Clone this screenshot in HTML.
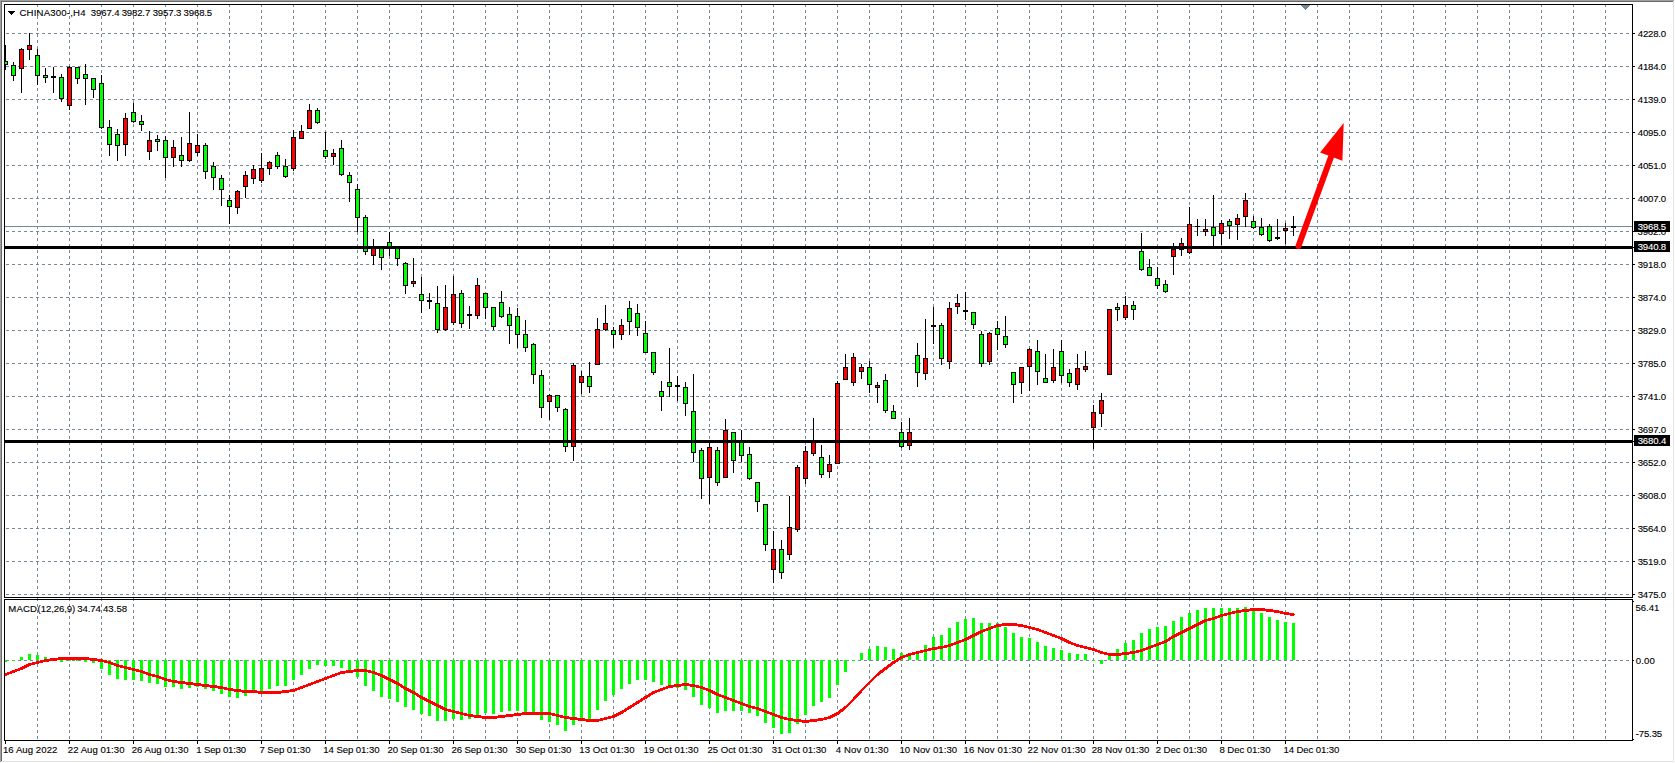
<!DOCTYPE html><html><head><meta charset="utf-8"><style>html,body{margin:0;padding:0;background:#fff;width:1675px;height:763px;overflow:hidden}text{font-family:"Liberation Sans",sans-serif}</style></head><body><svg width="1675" height="763" viewBox="0 0 1675 763" shape-rendering="crispEdges" style="position:absolute;left:0;top:0">
<defs><clipPath id="cm"><rect x="5" y="5" width="1627" height="592"/></clipPath><clipPath id="cd"><rect x="5" y="600" width="1627" height="140"/></clipPath></defs>
<rect x="0" y="0" width="1675" height="763" fill="#fff"/>
<rect x="0" y="0" width="1674" height="1" fill="#a0a0a0"/>
<rect x="0" y="0" width="1" height="762" fill="#a0a0a0"/>
<rect x="1" y="1" width="1672" height="1" fill="#696969"/>
<rect x="1" y="1" width="1" height="760" fill="#696969"/>
<rect x="1673" y="1" width="1" height="761" fill="#e3e3e3"/>
<rect x="1" y="761" width="1673" height="1" fill="#e3e3e3"/>
<path d="M37.5 4V597M69.5 4V597M101.5 4V597M133.5 4V597M165.5 4V597M197.5 4V597M229.5 4V597M261.5 4V597M293.5 4V597M325.5 4V597M357.5 4V597M389.5 4V597M421.5 4V597M453.5 4V597M485.5 4V597M517.5 4V597M549.5 4V597M581.5 4V597M613.5 4V597M645.5 4V597M677.5 4V597M709.5 4V597M741.5 4V597M773.5 4V597M805.5 4V597M837.5 4V597M869.5 4V597M901.5 4V597M933.5 4V597M965.5 4V597M997.5 4V597M1029.5 4V597M1061.5 4V597M1093.5 4V597M1125.5 4V597M1157.5 4V597M1189.5 4V597M1221.5 4V597M1253.5 4V597M1285.5 4V597M1317.5 4V597M1349.5 4V597M1381.5 4V597M1413.5 4V597M1445.5 4V597M1477.5 4V597M1509.5 4V597M1541.5 4V597M1573.5 4V597M1605.5 4V597M6 33.5H1632M6 66.5H1632M6 99.5H1632M6 132.5H1632M6 165.5H1632M6 198.5H1632M6 231.5H1632M6 264.5H1632M6 297.5H1632M6 330.5H1632M6 363.5H1632M6 396.5H1632M6 429.5H1632M6 462.5H1632M6 495.5H1632M6 528.5H1632M6 561.5H1632M6 594.5H1632" stroke="#778899" stroke-width="1" stroke-dasharray="3 3" fill="none"/>
<path d="M37.5 598V740M69.5 598V740M101.5 598V740M133.5 598V740M165.5 598V740M197.5 598V740M229.5 598V740M261.5 598V740M293.5 598V740M325.5 598V740M357.5 598V740M389.5 598V740M421.5 598V740M453.5 598V740M485.5 598V740M517.5 598V740M549.5 598V740M581.5 598V740M613.5 598V740M645.5 598V740M677.5 598V740M709.5 598V740M741.5 598V740M773.5 598V740M805.5 598V740M837.5 598V740M869.5 598V740M901.5 598V740M933.5 598V740M965.5 598V740M997.5 598V740M1029.5 598V740M1061.5 598V740M1093.5 598V740M1125.5 598V740M1157.5 598V740M1189.5 598V740M1221.5 598V740M1253.5 598V740M1285.5 598V740M1317.5 598V740M1349.5 598V740M1381.5 598V740M1413.5 598V740M1445.5 598V740M1477.5 598V740M1509.5 598V740M1541.5 598V740M1573.5 598V740M1605.5 598V740M6 660.5H1632" stroke="#778899" stroke-width="1" stroke-dasharray="3 3" fill="none"/>
<rect x="5" y="226" width="1627" height="1" fill="#778899"/>
<g clip-path="url(#cm)">
<rect x="5" y="45" width="1" height="25" fill="#000"/>
<rect x="3" y="61" width="5" height="4" fill="#000"/>
<rect x="4" y="62" width="3" height="2" fill="#00ff00"/>
<rect x="13" y="62" width="1" height="19" fill="#000"/>
<rect x="11" y="65" width="5" height="11" fill="#000"/>
<rect x="12" y="66" width="3" height="9" fill="#00ff00"/>
<rect x="21" y="48" width="1" height="45" fill="#000"/>
<rect x="19" y="49" width="5" height="20" fill="#000"/>
<rect x="20" y="50" width="3" height="18" fill="#ff0000"/>
<rect x="29" y="33" width="1" height="27" fill="#000"/>
<rect x="27" y="45" width="5" height="5" fill="#000"/>
<rect x="28" y="46" width="3" height="3" fill="#ff0000"/>
<rect x="37" y="49" width="1" height="36" fill="#000"/>
<rect x="35" y="55" width="5" height="21" fill="#000"/>
<rect x="36" y="56" width="3" height="19" fill="#00ff00"/>
<rect x="45" y="68" width="1" height="15" fill="#000"/>
<rect x="43" y="75" width="5" height="3" fill="#000"/>
<rect x="44" y="76" width="3" height="1" fill="#00ff00"/>
<rect x="53" y="67" width="1" height="26" fill="#000"/>
<rect x="51" y="76" width="5" height="2" fill="#000"/>
<rect x="61" y="74" width="1" height="28" fill="#000"/>
<rect x="59" y="77" width="5" height="22" fill="#000"/>
<rect x="60" y="78" width="3" height="20" fill="#00ff00"/>
<rect x="69" y="66" width="1" height="44" fill="#000"/>
<rect x="67" y="67" width="5" height="39" fill="#000"/>
<rect x="68" y="68" width="3" height="37" fill="#ff0000"/>
<rect x="77" y="67" width="1" height="17" fill="#000"/>
<rect x="75" y="67" width="5" height="12" fill="#000"/>
<rect x="76" y="68" width="3" height="10" fill="#00ff00"/>
<rect x="85" y="64" width="1" height="41" fill="#000"/>
<rect x="83" y="74" width="5" height="5" fill="#000"/>
<rect x="84" y="75" width="3" height="3" fill="#00ff00"/>
<rect x="93" y="78" width="1" height="20" fill="#000"/>
<rect x="91" y="78" width="5" height="12" fill="#000"/>
<rect x="92" y="79" width="3" height="10" fill="#00ff00"/>
<rect x="101" y="75" width="1" height="54" fill="#000"/>
<rect x="99" y="83" width="5" height="45" fill="#000"/>
<rect x="100" y="84" width="3" height="43" fill="#00ff00"/>
<rect x="109" y="120" width="1" height="36" fill="#000"/>
<rect x="107" y="127" width="5" height="18" fill="#000"/>
<rect x="108" y="128" width="3" height="16" fill="#00ff00"/>
<rect x="117" y="129" width="1" height="32" fill="#000"/>
<rect x="115" y="134" width="5" height="12" fill="#000"/>
<rect x="116" y="135" width="3" height="10" fill="#00ff00"/>
<rect x="125" y="113" width="1" height="43" fill="#000"/>
<rect x="123" y="118" width="5" height="27" fill="#000"/>
<rect x="124" y="119" width="3" height="25" fill="#ff0000"/>
<rect x="133" y="103" width="1" height="20" fill="#000"/>
<rect x="131" y="112" width="5" height="10" fill="#000"/>
<rect x="132" y="113" width="3" height="8" fill="#00ff00"/>
<rect x="141" y="115" width="1" height="16" fill="#000"/>
<rect x="139" y="121" width="5" height="4" fill="#000"/>
<rect x="140" y="122" width="3" height="2" fill="#00ff00"/>
<rect x="149" y="131" width="1" height="29" fill="#000"/>
<rect x="147" y="140" width="5" height="12" fill="#000"/>
<rect x="148" y="141" width="3" height="10" fill="#ff0000"/>
<rect x="157" y="135" width="1" height="16" fill="#000"/>
<rect x="155" y="139" width="5" height="3" fill="#000"/>
<rect x="156" y="140" width="3" height="1" fill="#00ff00"/>
<rect x="165" y="136" width="1" height="42" fill="#000"/>
<rect x="163" y="140" width="5" height="18" fill="#000"/>
<rect x="164" y="141" width="3" height="16" fill="#00ff00"/>
<rect x="173" y="140" width="1" height="27" fill="#000"/>
<rect x="171" y="147" width="5" height="11" fill="#000"/>
<rect x="172" y="148" width="3" height="9" fill="#ff0000"/>
<rect x="181" y="137" width="1" height="30" fill="#000"/>
<rect x="179" y="155" width="5" height="6" fill="#000"/>
<rect x="180" y="156" width="3" height="4" fill="#00ff00"/>
<rect x="189" y="112" width="1" height="50" fill="#000"/>
<rect x="187" y="143" width="5" height="18" fill="#000"/>
<rect x="188" y="144" width="3" height="16" fill="#ff0000"/>
<rect x="197" y="134" width="1" height="22" fill="#000"/>
<rect x="195" y="145" width="5" height="8" fill="#000"/>
<rect x="196" y="146" width="3" height="6" fill="#ff0000"/>
<rect x="205" y="143" width="1" height="36" fill="#000"/>
<rect x="203" y="145" width="5" height="27" fill="#000"/>
<rect x="204" y="146" width="3" height="25" fill="#00ff00"/>
<rect x="213" y="162" width="1" height="28" fill="#000"/>
<rect x="211" y="166" width="5" height="12" fill="#000"/>
<rect x="212" y="167" width="3" height="10" fill="#00ff00"/>
<rect x="221" y="175" width="1" height="31" fill="#000"/>
<rect x="219" y="178" width="5" height="12" fill="#000"/>
<rect x="220" y="179" width="3" height="10" fill="#00ff00"/>
<rect x="229" y="195" width="1" height="29" fill="#000"/>
<rect x="227" y="200" width="5" height="7" fill="#000"/>
<rect x="228" y="201" width="3" height="5" fill="#00ff00"/>
<rect x="237" y="190" width="1" height="24" fill="#000"/>
<rect x="235" y="191" width="5" height="17" fill="#000"/>
<rect x="236" y="192" width="3" height="15" fill="#ff0000"/>
<rect x="245" y="171" width="1" height="27" fill="#000"/>
<rect x="243" y="175" width="5" height="12" fill="#000"/>
<rect x="244" y="176" width="3" height="10" fill="#ff0000"/>
<rect x="253" y="165" width="1" height="19" fill="#000"/>
<rect x="251" y="169" width="5" height="10" fill="#000"/>
<rect x="252" y="170" width="3" height="8" fill="#ff0000"/>
<rect x="261" y="153" width="1" height="30" fill="#000"/>
<rect x="259" y="168" width="5" height="13" fill="#000"/>
<rect x="260" y="169" width="3" height="11" fill="#ff0000"/>
<rect x="269" y="161" width="1" height="14" fill="#000"/>
<rect x="267" y="162" width="5" height="7" fill="#000"/>
<rect x="268" y="163" width="3" height="5" fill="#ff0000"/>
<rect x="277" y="152" width="1" height="17" fill="#000"/>
<rect x="275" y="155" width="5" height="12" fill="#000"/>
<rect x="276" y="156" width="3" height="10" fill="#00ff00"/>
<rect x="285" y="159" width="1" height="19" fill="#000"/>
<rect x="283" y="166" width="5" height="11" fill="#000"/>
<rect x="284" y="167" width="3" height="9" fill="#00ff00"/>
<rect x="293" y="130" width="1" height="41" fill="#000"/>
<rect x="291" y="137" width="5" height="32" fill="#000"/>
<rect x="292" y="138" width="3" height="30" fill="#ff0000"/>
<rect x="301" y="125" width="1" height="14" fill="#000"/>
<rect x="299" y="131" width="5" height="8" fill="#000"/>
<rect x="300" y="132" width="3" height="6" fill="#ff0000"/>
<rect x="309" y="104" width="1" height="25" fill="#000"/>
<rect x="307" y="110" width="5" height="19" fill="#000"/>
<rect x="308" y="111" width="3" height="17" fill="#ff0000"/>
<rect x="317" y="108" width="1" height="16" fill="#000"/>
<rect x="315" y="110" width="5" height="13" fill="#000"/>
<rect x="316" y="111" width="3" height="11" fill="#00ff00"/>
<rect x="325" y="132" width="1" height="27" fill="#000"/>
<rect x="323" y="150" width="5" height="7" fill="#000"/>
<rect x="324" y="151" width="3" height="5" fill="#00ff00"/>
<rect x="333" y="149" width="1" height="16" fill="#000"/>
<rect x="331" y="153" width="5" height="4" fill="#000"/>
<rect x="332" y="154" width="3" height="2" fill="#ff0000"/>
<rect x="341" y="140" width="1" height="36" fill="#000"/>
<rect x="339" y="148" width="5" height="27" fill="#000"/>
<rect x="340" y="149" width="3" height="25" fill="#00ff00"/>
<rect x="349" y="172" width="1" height="30" fill="#000"/>
<rect x="347" y="175" width="5" height="8" fill="#000"/>
<rect x="348" y="176" width="3" height="6" fill="#00ff00"/>
<rect x="357" y="184" width="1" height="48" fill="#000"/>
<rect x="355" y="189" width="5" height="29" fill="#000"/>
<rect x="356" y="190" width="3" height="27" fill="#00ff00"/>
<rect x="365" y="215" width="1" height="40" fill="#000"/>
<rect x="363" y="217" width="5" height="35" fill="#000"/>
<rect x="364" y="218" width="3" height="33" fill="#00ff00"/>
<rect x="373" y="239" width="1" height="26" fill="#000"/>
<rect x="371" y="247" width="5" height="9" fill="#000"/>
<rect x="372" y="248" width="3" height="7" fill="#ff0000"/>
<rect x="381" y="247" width="1" height="23" fill="#000"/>
<rect x="379" y="247" width="5" height="11" fill="#000"/>
<rect x="380" y="248" width="3" height="9" fill="#00ff00"/>
<rect x="389" y="232" width="1" height="24" fill="#000"/>
<rect x="387" y="242" width="5" height="5" fill="#000"/>
<rect x="388" y="243" width="3" height="3" fill="#00ff00"/>
<rect x="397" y="247" width="1" height="19" fill="#000"/>
<rect x="395" y="247" width="5" height="12" fill="#000"/>
<rect x="396" y="248" width="3" height="10" fill="#00ff00"/>
<rect x="405" y="262" width="1" height="32" fill="#000"/>
<rect x="403" y="263" width="5" height="23" fill="#000"/>
<rect x="404" y="264" width="3" height="21" fill="#00ff00"/>
<rect x="413" y="258" width="1" height="29" fill="#000"/>
<rect x="411" y="281" width="5" height="3" fill="#000"/>
<rect x="412" y="282" width="3" height="1" fill="#ff0000"/>
<rect x="421" y="277" width="1" height="36" fill="#000"/>
<rect x="419" y="294" width="5" height="7" fill="#000"/>
<rect x="420" y="295" width="3" height="5" fill="#00ff00"/>
<rect x="429" y="293" width="1" height="16" fill="#000"/>
<rect x="427" y="300" width="5" height="2" fill="#000"/>
<rect x="437" y="286" width="1" height="47" fill="#000"/>
<rect x="435" y="303" width="5" height="27" fill="#000"/>
<rect x="436" y="304" width="3" height="25" fill="#00ff00"/>
<rect x="445" y="285" width="1" height="46" fill="#000"/>
<rect x="443" y="307" width="5" height="23" fill="#000"/>
<rect x="444" y="308" width="3" height="21" fill="#ff0000"/>
<rect x="453" y="276" width="1" height="49" fill="#000"/>
<rect x="451" y="294" width="5" height="29" fill="#000"/>
<rect x="452" y="295" width="3" height="27" fill="#ff0000"/>
<rect x="461" y="290" width="1" height="38" fill="#000"/>
<rect x="459" y="293" width="5" height="31" fill="#000"/>
<rect x="460" y="294" width="3" height="29" fill="#00ff00"/>
<rect x="469" y="306" width="1" height="23" fill="#000"/>
<rect x="467" y="314" width="5" height="2" fill="#000"/>
<rect x="477" y="278" width="1" height="41" fill="#000"/>
<rect x="475" y="285" width="5" height="31" fill="#000"/>
<rect x="476" y="286" width="3" height="29" fill="#ff0000"/>
<rect x="485" y="293" width="1" height="26" fill="#000"/>
<rect x="483" y="293" width="5" height="15" fill="#000"/>
<rect x="484" y="294" width="3" height="13" fill="#00ff00"/>
<rect x="493" y="307" width="1" height="23" fill="#000"/>
<rect x="491" y="307" width="5" height="20" fill="#000"/>
<rect x="492" y="308" width="3" height="18" fill="#00ff00"/>
<rect x="501" y="291" width="1" height="27" fill="#000"/>
<rect x="499" y="302" width="5" height="15" fill="#000"/>
<rect x="500" y="303" width="3" height="13" fill="#00ff00"/>
<rect x="509" y="307" width="1" height="37" fill="#000"/>
<rect x="507" y="314" width="5" height="12" fill="#000"/>
<rect x="508" y="315" width="3" height="10" fill="#00ff00"/>
<rect x="517" y="308" width="1" height="40" fill="#000"/>
<rect x="515" y="316" width="5" height="19" fill="#000"/>
<rect x="516" y="317" width="3" height="17" fill="#00ff00"/>
<rect x="525" y="320" width="1" height="32" fill="#000"/>
<rect x="523" y="334" width="5" height="14" fill="#000"/>
<rect x="524" y="335" width="3" height="12" fill="#00ff00"/>
<rect x="533" y="343" width="1" height="41" fill="#000"/>
<rect x="531" y="344" width="5" height="31" fill="#000"/>
<rect x="532" y="345" width="3" height="29" fill="#00ff00"/>
<rect x="541" y="370" width="1" height="48" fill="#000"/>
<rect x="539" y="375" width="5" height="33" fill="#000"/>
<rect x="540" y="376" width="3" height="31" fill="#00ff00"/>
<rect x="549" y="394" width="1" height="26" fill="#000"/>
<rect x="547" y="395" width="5" height="7" fill="#000"/>
<rect x="548" y="396" width="3" height="5" fill="#ff0000"/>
<rect x="557" y="395" width="1" height="17" fill="#000"/>
<rect x="555" y="395" width="5" height="13" fill="#000"/>
<rect x="556" y="396" width="3" height="11" fill="#00ff00"/>
<rect x="565" y="408" width="1" height="44" fill="#000"/>
<rect x="563" y="409" width="5" height="38" fill="#000"/>
<rect x="564" y="410" width="3" height="36" fill="#00ff00"/>
<rect x="573" y="363" width="1" height="98" fill="#000"/>
<rect x="571" y="365" width="5" height="82" fill="#000"/>
<rect x="572" y="366" width="3" height="80" fill="#ff0000"/>
<rect x="581" y="371" width="1" height="23" fill="#000"/>
<rect x="579" y="376" width="5" height="7" fill="#000"/>
<rect x="580" y="377" width="3" height="5" fill="#ff0000"/>
<rect x="589" y="362" width="1" height="31" fill="#000"/>
<rect x="587" y="376" width="5" height="11" fill="#000"/>
<rect x="588" y="377" width="3" height="9" fill="#00ff00"/>
<rect x="597" y="318" width="1" height="47" fill="#000"/>
<rect x="595" y="329" width="5" height="36" fill="#000"/>
<rect x="596" y="330" width="3" height="34" fill="#ff0000"/>
<rect x="605" y="305" width="1" height="26" fill="#000"/>
<rect x="603" y="323" width="5" height="7" fill="#000"/>
<rect x="604" y="324" width="3" height="5" fill="#ff0000"/>
<rect x="613" y="327" width="1" height="21" fill="#000"/>
<rect x="611" y="330" width="5" height="5" fill="#000"/>
<rect x="612" y="331" width="3" height="3" fill="#00ff00"/>
<rect x="621" y="319" width="1" height="21" fill="#000"/>
<rect x="619" y="325" width="5" height="10" fill="#000"/>
<rect x="620" y="326" width="3" height="8" fill="#ff0000"/>
<rect x="629" y="301" width="1" height="34" fill="#000"/>
<rect x="627" y="308" width="5" height="14" fill="#000"/>
<rect x="628" y="309" width="3" height="12" fill="#00ff00"/>
<rect x="637" y="304" width="1" height="32" fill="#000"/>
<rect x="635" y="313" width="5" height="15" fill="#000"/>
<rect x="636" y="314" width="3" height="13" fill="#00ff00"/>
<rect x="645" y="321" width="1" height="32" fill="#000"/>
<rect x="643" y="333" width="5" height="20" fill="#000"/>
<rect x="644" y="334" width="3" height="18" fill="#00ff00"/>
<rect x="653" y="352" width="1" height="23" fill="#000"/>
<rect x="651" y="352" width="5" height="21" fill="#000"/>
<rect x="652" y="353" width="3" height="19" fill="#00ff00"/>
<rect x="661" y="381" width="1" height="30" fill="#000"/>
<rect x="659" y="391" width="5" height="6" fill="#000"/>
<rect x="660" y="392" width="3" height="4" fill="#00ff00"/>
<rect x="669" y="348" width="1" height="49" fill="#000"/>
<rect x="667" y="382" width="5" height="5" fill="#000"/>
<rect x="668" y="383" width="3" height="3" fill="#00ff00"/>
<rect x="677" y="376" width="1" height="25" fill="#000"/>
<rect x="675" y="385" width="5" height="2" fill="#000"/>
<rect x="685" y="382" width="1" height="34" fill="#000"/>
<rect x="683" y="387" width="5" height="17" fill="#000"/>
<rect x="684" y="388" width="3" height="15" fill="#00ff00"/>
<rect x="693" y="374" width="1" height="88" fill="#000"/>
<rect x="691" y="411" width="5" height="42" fill="#000"/>
<rect x="692" y="412" width="3" height="40" fill="#00ff00"/>
<rect x="701" y="448" width="1" height="51" fill="#000"/>
<rect x="699" y="450" width="5" height="29" fill="#000"/>
<rect x="700" y="451" width="3" height="27" fill="#00ff00"/>
<rect x="709" y="443" width="1" height="61" fill="#000"/>
<rect x="707" y="447" width="5" height="31" fill="#000"/>
<rect x="708" y="448" width="3" height="29" fill="#ff0000"/>
<rect x="717" y="447" width="1" height="39" fill="#000"/>
<rect x="715" y="450" width="5" height="33" fill="#000"/>
<rect x="716" y="451" width="3" height="31" fill="#00ff00"/>
<rect x="725" y="419" width="1" height="59" fill="#000"/>
<rect x="723" y="430" width="5" height="48" fill="#000"/>
<rect x="724" y="431" width="3" height="46" fill="#ff0000"/>
<rect x="733" y="432" width="1" height="41" fill="#000"/>
<rect x="731" y="432" width="5" height="29" fill="#000"/>
<rect x="732" y="433" width="3" height="27" fill="#00ff00"/>
<rect x="741" y="430" width="1" height="32" fill="#000"/>
<rect x="739" y="441" width="5" height="15" fill="#000"/>
<rect x="740" y="442" width="3" height="13" fill="#00ff00"/>
<rect x="749" y="447" width="1" height="33" fill="#000"/>
<rect x="747" y="454" width="5" height="25" fill="#000"/>
<rect x="748" y="455" width="3" height="23" fill="#00ff00"/>
<rect x="757" y="482" width="1" height="30" fill="#000"/>
<rect x="755" y="482" width="5" height="20" fill="#000"/>
<rect x="756" y="483" width="3" height="18" fill="#00ff00"/>
<rect x="765" y="504" width="1" height="47" fill="#000"/>
<rect x="763" y="504" width="5" height="41" fill="#000"/>
<rect x="764" y="505" width="3" height="39" fill="#00ff00"/>
<rect x="773" y="531" width="1" height="52" fill="#000"/>
<rect x="771" y="549" width="5" height="21" fill="#000"/>
<rect x="772" y="550" width="3" height="19" fill="#ff0000"/>
<rect x="781" y="540" width="1" height="39" fill="#000"/>
<rect x="779" y="549" width="5" height="24" fill="#000"/>
<rect x="780" y="550" width="3" height="22" fill="#00ff00"/>
<rect x="789" y="496" width="1" height="64" fill="#000"/>
<rect x="787" y="527" width="5" height="28" fill="#000"/>
<rect x="788" y="528" width="3" height="26" fill="#ff0000"/>
<rect x="797" y="465" width="1" height="67" fill="#000"/>
<rect x="795" y="467" width="5" height="63" fill="#000"/>
<rect x="796" y="468" width="3" height="61" fill="#ff0000"/>
<rect x="805" y="446" width="1" height="38" fill="#000"/>
<rect x="803" y="451" width="5" height="28" fill="#000"/>
<rect x="804" y="452" width="3" height="26" fill="#ff0000"/>
<rect x="813" y="418" width="1" height="38" fill="#000"/>
<rect x="811" y="440" width="5" height="14" fill="#000"/>
<rect x="812" y="441" width="3" height="12" fill="#ff0000"/>
<rect x="821" y="445" width="1" height="33" fill="#000"/>
<rect x="819" y="457" width="5" height="18" fill="#000"/>
<rect x="820" y="458" width="3" height="16" fill="#00ff00"/>
<rect x="829" y="455" width="1" height="23" fill="#000"/>
<rect x="827" y="464" width="5" height="8" fill="#000"/>
<rect x="828" y="465" width="3" height="6" fill="#ff0000"/>
<rect x="837" y="381" width="1" height="83" fill="#000"/>
<rect x="835" y="383" width="5" height="81" fill="#000"/>
<rect x="836" y="384" width="3" height="79" fill="#ff0000"/>
<rect x="845" y="354" width="1" height="26" fill="#000"/>
<rect x="843" y="367" width="5" height="13" fill="#000"/>
<rect x="844" y="368" width="3" height="11" fill="#ff0000"/>
<rect x="853" y="353" width="1" height="33" fill="#000"/>
<rect x="851" y="357" width="5" height="26" fill="#000"/>
<rect x="852" y="358" width="3" height="24" fill="#ff0000"/>
<rect x="861" y="364" width="1" height="15" fill="#000"/>
<rect x="859" y="367" width="5" height="5" fill="#000"/>
<rect x="860" y="368" width="3" height="3" fill="#ff0000"/>
<rect x="869" y="361" width="1" height="32" fill="#000"/>
<rect x="867" y="367" width="5" height="18" fill="#000"/>
<rect x="868" y="368" width="3" height="16" fill="#00ff00"/>
<rect x="877" y="382" width="1" height="21" fill="#000"/>
<rect x="875" y="385" width="5" height="3" fill="#000"/>
<rect x="876" y="386" width="3" height="1" fill="#ff0000"/>
<rect x="885" y="374" width="1" height="39" fill="#000"/>
<rect x="883" y="380" width="5" height="31" fill="#000"/>
<rect x="884" y="381" width="3" height="29" fill="#00ff00"/>
<rect x="893" y="405" width="1" height="14" fill="#000"/>
<rect x="891" y="411" width="5" height="8" fill="#000"/>
<rect x="892" y="412" width="3" height="6" fill="#00ff00"/>
<rect x="901" y="422" width="1" height="26" fill="#000"/>
<rect x="899" y="432" width="5" height="15" fill="#000"/>
<rect x="900" y="433" width="3" height="13" fill="#00ff00"/>
<rect x="909" y="418" width="1" height="32" fill="#000"/>
<rect x="907" y="432" width="5" height="14" fill="#000"/>
<rect x="908" y="433" width="3" height="12" fill="#ff0000"/>
<rect x="917" y="343" width="1" height="44" fill="#000"/>
<rect x="915" y="355" width="5" height="18" fill="#000"/>
<rect x="916" y="356" width="3" height="16" fill="#00ff00"/>
<rect x="925" y="319" width="1" height="61" fill="#000"/>
<rect x="923" y="358" width="5" height="16" fill="#000"/>
<rect x="924" y="359" width="3" height="14" fill="#ff0000"/>
<rect x="933" y="307" width="1" height="37" fill="#000"/>
<rect x="931" y="325" width="5" height="2" fill="#000"/>
<rect x="941" y="323" width="1" height="42" fill="#000"/>
<rect x="939" y="325" width="5" height="34" fill="#000"/>
<rect x="940" y="326" width="3" height="32" fill="#00ff00"/>
<rect x="949" y="302" width="1" height="67" fill="#000"/>
<rect x="947" y="308" width="5" height="54" fill="#000"/>
<rect x="948" y="309" width="3" height="52" fill="#ff0000"/>
<rect x="957" y="294" width="1" height="20" fill="#000"/>
<rect x="955" y="303" width="5" height="4" fill="#000"/>
<rect x="956" y="304" width="3" height="2" fill="#ff0000"/>
<rect x="965" y="292" width="1" height="28" fill="#000"/>
<rect x="963" y="310" width="5" height="2" fill="#000"/>
<rect x="973" y="312" width="1" height="17" fill="#000"/>
<rect x="971" y="312" width="5" height="13" fill="#000"/>
<rect x="972" y="313" width="3" height="11" fill="#00ff00"/>
<rect x="981" y="331" width="1" height="36" fill="#000"/>
<rect x="979" y="334" width="5" height="30" fill="#000"/>
<rect x="980" y="335" width="3" height="28" fill="#00ff00"/>
<rect x="989" y="332" width="1" height="33" fill="#000"/>
<rect x="987" y="333" width="5" height="29" fill="#000"/>
<rect x="988" y="334" width="3" height="27" fill="#ff0000"/>
<rect x="997" y="321" width="1" height="29" fill="#000"/>
<rect x="995" y="328" width="5" height="7" fill="#000"/>
<rect x="996" y="329" width="3" height="5" fill="#00ff00"/>
<rect x="1005" y="316" width="1" height="32" fill="#000"/>
<rect x="1003" y="336" width="5" height="9" fill="#000"/>
<rect x="1004" y="337" width="3" height="7" fill="#00ff00"/>
<rect x="1013" y="372" width="1" height="31" fill="#000"/>
<rect x="1011" y="372" width="5" height="13" fill="#000"/>
<rect x="1012" y="373" width="3" height="11" fill="#00ff00"/>
<rect x="1021" y="367" width="1" height="27" fill="#000"/>
<rect x="1019" y="367" width="5" height="16" fill="#000"/>
<rect x="1020" y="368" width="3" height="14" fill="#ff0000"/>
<rect x="1029" y="348" width="1" height="43" fill="#000"/>
<rect x="1027" y="349" width="5" height="18" fill="#000"/>
<rect x="1028" y="350" width="3" height="16" fill="#ff0000"/>
<rect x="1037" y="340" width="1" height="45" fill="#000"/>
<rect x="1035" y="351" width="5" height="21" fill="#000"/>
<rect x="1036" y="352" width="3" height="19" fill="#00ff00"/>
<rect x="1045" y="354" width="1" height="29" fill="#000"/>
<rect x="1043" y="378" width="5" height="5" fill="#000"/>
<rect x="1044" y="379" width="3" height="3" fill="#00ff00"/>
<rect x="1053" y="349" width="1" height="34" fill="#000"/>
<rect x="1051" y="367" width="5" height="14" fill="#000"/>
<rect x="1052" y="368" width="3" height="12" fill="#ff0000"/>
<rect x="1061" y="340" width="1" height="43" fill="#000"/>
<rect x="1059" y="351" width="5" height="25" fill="#000"/>
<rect x="1060" y="352" width="3" height="23" fill="#00ff00"/>
<rect x="1069" y="369" width="1" height="18" fill="#000"/>
<rect x="1067" y="373" width="5" height="10" fill="#000"/>
<rect x="1068" y="374" width="3" height="8" fill="#00ff00"/>
<rect x="1077" y="354" width="1" height="36" fill="#000"/>
<rect x="1075" y="368" width="5" height="17" fill="#000"/>
<rect x="1076" y="369" width="3" height="15" fill="#ff0000"/>
<rect x="1085" y="351" width="1" height="21" fill="#000"/>
<rect x="1083" y="366" width="5" height="4" fill="#000"/>
<rect x="1084" y="367" width="3" height="2" fill="#ff0000"/>
<rect x="1093" y="405" width="1" height="44" fill="#000"/>
<rect x="1091" y="412" width="5" height="16" fill="#000"/>
<rect x="1092" y="413" width="3" height="14" fill="#ff0000"/>
<rect x="1101" y="393" width="1" height="34" fill="#000"/>
<rect x="1099" y="400" width="5" height="14" fill="#000"/>
<rect x="1100" y="401" width="3" height="12" fill="#ff0000"/>
<rect x="1109" y="309" width="1" height="66" fill="#000"/>
<rect x="1107" y="309" width="5" height="66" fill="#000"/>
<rect x="1108" y="310" width="3" height="64" fill="#ff0000"/>
<rect x="1117" y="303" width="1" height="18" fill="#000"/>
<rect x="1115" y="307" width="5" height="3" fill="#000"/>
<rect x="1116" y="308" width="3" height="1" fill="#00ff00"/>
<rect x="1125" y="296" width="1" height="24" fill="#000"/>
<rect x="1123" y="305" width="5" height="13" fill="#000"/>
<rect x="1124" y="306" width="3" height="11" fill="#ff0000"/>
<rect x="1133" y="301" width="1" height="19" fill="#000"/>
<rect x="1131" y="305" width="5" height="5" fill="#000"/>
<rect x="1132" y="306" width="3" height="3" fill="#00ff00"/>
<rect x="1141" y="233" width="1" height="38" fill="#000"/>
<rect x="1139" y="251" width="5" height="19" fill="#000"/>
<rect x="1140" y="252" width="3" height="17" fill="#00ff00"/>
<rect x="1149" y="259" width="1" height="17" fill="#000"/>
<rect x="1147" y="267" width="5" height="9" fill="#000"/>
<rect x="1148" y="268" width="3" height="7" fill="#00ff00"/>
<rect x="1157" y="267" width="1" height="22" fill="#000"/>
<rect x="1155" y="278" width="5" height="8" fill="#000"/>
<rect x="1156" y="279" width="3" height="6" fill="#00ff00"/>
<rect x="1165" y="280" width="1" height="13" fill="#000"/>
<rect x="1163" y="284" width="5" height="8" fill="#000"/>
<rect x="1164" y="285" width="3" height="6" fill="#00ff00"/>
<rect x="1173" y="243" width="1" height="32" fill="#000"/>
<rect x="1171" y="249" width="5" height="8" fill="#000"/>
<rect x="1172" y="250" width="3" height="6" fill="#ff0000"/>
<rect x="1181" y="238" width="1" height="18" fill="#000"/>
<rect x="1179" y="243" width="5" height="7" fill="#000"/>
<rect x="1180" y="244" width="3" height="5" fill="#ff0000"/>
<rect x="1189" y="207" width="1" height="47" fill="#000"/>
<rect x="1187" y="224" width="5" height="29" fill="#000"/>
<rect x="1188" y="225" width="3" height="27" fill="#ff0000"/>
<rect x="1197" y="219" width="1" height="17" fill="#000"/>
<rect x="1195" y="226" width="5" height="1" fill="#000"/>
<rect x="1205" y="219" width="1" height="17" fill="#000"/>
<rect x="1203" y="229" width="5" height="3" fill="#000"/>
<rect x="1204" y="230" width="3" height="1" fill="#ff0000"/>
<rect x="1213" y="195" width="1" height="52" fill="#000"/>
<rect x="1211" y="227" width="5" height="9" fill="#000"/>
<rect x="1212" y="228" width="3" height="7" fill="#00ff00"/>
<rect x="1221" y="220" width="1" height="25" fill="#000"/>
<rect x="1219" y="223" width="5" height="11" fill="#000"/>
<rect x="1220" y="224" width="3" height="9" fill="#ff0000"/>
<rect x="1229" y="219" width="1" height="20" fill="#000"/>
<rect x="1227" y="221" width="5" height="5" fill="#000"/>
<rect x="1228" y="222" width="3" height="3" fill="#00ff00"/>
<rect x="1237" y="214" width="1" height="26" fill="#000"/>
<rect x="1235" y="218" width="5" height="7" fill="#000"/>
<rect x="1236" y="219" width="3" height="5" fill="#ff0000"/>
<rect x="1245" y="193" width="1" height="34" fill="#000"/>
<rect x="1243" y="200" width="5" height="17" fill="#000"/>
<rect x="1244" y="201" width="3" height="15" fill="#ff0000"/>
<rect x="1253" y="216" width="1" height="13" fill="#000"/>
<rect x="1251" y="221" width="5" height="7" fill="#000"/>
<rect x="1252" y="222" width="3" height="5" fill="#00ff00"/>
<rect x="1261" y="218" width="1" height="18" fill="#000"/>
<rect x="1259" y="227" width="5" height="8" fill="#000"/>
<rect x="1260" y="228" width="3" height="6" fill="#00ff00"/>
<rect x="1269" y="224" width="1" height="18" fill="#000"/>
<rect x="1267" y="226" width="5" height="15" fill="#000"/>
<rect x="1268" y="227" width="3" height="13" fill="#00ff00"/>
<rect x="1277" y="219" width="1" height="21" fill="#000"/>
<rect x="1275" y="237" width="5" height="2" fill="#000"/>
<rect x="1285" y="223" width="1" height="21" fill="#000"/>
<rect x="1283" y="228" width="5" height="3" fill="#000"/>
<rect x="1284" y="229" width="3" height="1" fill="#ff0000"/>
<rect x="1293" y="216" width="1" height="20" fill="#000"/>
<rect x="1291" y="226" width="5" height="2" fill="#000"/>
<rect x="5" y="246" width="1627" height="3" fill="#000"/>
<rect x="5" y="440" width="1627" height="3" fill="#000"/>
</g>
<g clip-path="url(#cd)">
<rect x="4" y="660" width="3" height="2" fill="#00ff00"/>
<rect x="12" y="660" width="3" height="1" fill="#00ff00"/>
<rect x="20" y="657" width="3" height="3" fill="#00ff00"/>
<rect x="28" y="654" width="3" height="6" fill="#00ff00"/>
<rect x="36" y="655" width="3" height="5" fill="#00ff00"/>
<rect x="44" y="657" width="3" height="3" fill="#00ff00"/>
<rect x="52" y="659" width="3" height="1" fill="#00ff00"/>
<rect x="60" y="660" width="3" height="2" fill="#00ff00"/>
<rect x="68" y="660" width="3" height="1" fill="#00ff00"/>
<rect x="76" y="660" width="3" height="1" fill="#00ff00"/>
<rect x="84" y="660" width="3" height="2" fill="#00ff00"/>
<rect x="92" y="660" width="3" height="3" fill="#00ff00"/>
<rect x="100" y="660" width="3" height="9" fill="#00ff00"/>
<rect x="108" y="660" width="3" height="15" fill="#00ff00"/>
<rect x="116" y="660" width="3" height="19" fill="#00ff00"/>
<rect x="124" y="660" width="3" height="20" fill="#00ff00"/>
<rect x="132" y="660" width="3" height="20" fill="#00ff00"/>
<rect x="140" y="660" width="3" height="21" fill="#00ff00"/>
<rect x="148" y="660" width="3" height="23" fill="#00ff00"/>
<rect x="156" y="660" width="3" height="24" fill="#00ff00"/>
<rect x="164" y="660" width="3" height="27" fill="#00ff00"/>
<rect x="172" y="660" width="3" height="27" fill="#00ff00"/>
<rect x="180" y="660" width="3" height="29" fill="#00ff00"/>
<rect x="188" y="660" width="3" height="28" fill="#00ff00"/>
<rect x="196" y="660" width="3" height="27" fill="#00ff00"/>
<rect x="204" y="660" width="3" height="29" fill="#00ff00"/>
<rect x="212" y="660" width="3" height="31" fill="#00ff00"/>
<rect x="220" y="660" width="3" height="34" fill="#00ff00"/>
<rect x="228" y="660" width="3" height="37" fill="#00ff00"/>
<rect x="236" y="660" width="3" height="38" fill="#00ff00"/>
<rect x="244" y="660" width="3" height="36" fill="#00ff00"/>
<rect x="252" y="660" width="3" height="32" fill="#00ff00"/>
<rect x="260" y="660" width="3" height="32" fill="#00ff00"/>
<rect x="268" y="660" width="3" height="29" fill="#00ff00"/>
<rect x="276" y="660" width="3" height="26" fill="#00ff00"/>
<rect x="284" y="660" width="3" height="26" fill="#00ff00"/>
<rect x="292" y="660" width="3" height="20" fill="#00ff00"/>
<rect x="300" y="660" width="3" height="15" fill="#00ff00"/>
<rect x="308" y="660" width="3" height="9" fill="#00ff00"/>
<rect x="316" y="660" width="3" height="5" fill="#00ff00"/>
<rect x="324" y="660" width="3" height="6" fill="#00ff00"/>
<rect x="332" y="660" width="3" height="6" fill="#00ff00"/>
<rect x="340" y="660" width="3" height="8" fill="#00ff00"/>
<rect x="348" y="660" width="3" height="11" fill="#00ff00"/>
<rect x="356" y="660" width="3" height="17" fill="#00ff00"/>
<rect x="364" y="660" width="3" height="26" fill="#00ff00"/>
<rect x="372" y="660" width="3" height="31" fill="#00ff00"/>
<rect x="380" y="660" width="3" height="37" fill="#00ff00"/>
<rect x="388" y="660" width="3" height="39" fill="#00ff00"/>
<rect x="396" y="660" width="3" height="42" fill="#00ff00"/>
<rect x="404" y="660" width="3" height="47" fill="#00ff00"/>
<rect x="412" y="660" width="3" height="50" fill="#00ff00"/>
<rect x="420" y="660" width="3" height="54" fill="#00ff00"/>
<rect x="428" y="660" width="3" height="56" fill="#00ff00"/>
<rect x="436" y="660" width="3" height="61" fill="#00ff00"/>
<rect x="444" y="660" width="3" height="61" fill="#00ff00"/>
<rect x="452" y="660" width="3" height="59" fill="#00ff00"/>
<rect x="460" y="660" width="3" height="60" fill="#00ff00"/>
<rect x="468" y="660" width="3" height="59" fill="#00ff00"/>
<rect x="476" y="660" width="3" height="56" fill="#00ff00"/>
<rect x="484" y="660" width="3" height="53" fill="#00ff00"/>
<rect x="492" y="660" width="3" height="54" fill="#00ff00"/>
<rect x="500" y="660" width="3" height="52" fill="#00ff00"/>
<rect x="508" y="660" width="3" height="51" fill="#00ff00"/>
<rect x="516" y="660" width="3" height="51" fill="#00ff00"/>
<rect x="524" y="660" width="3" height="52" fill="#00ff00"/>
<rect x="532" y="660" width="3" height="55" fill="#00ff00"/>
<rect x="540" y="660" width="3" height="60" fill="#00ff00"/>
<rect x="548" y="660" width="3" height="62" fill="#00ff00"/>
<rect x="556" y="660" width="3" height="65" fill="#00ff00"/>
<rect x="564" y="660" width="3" height="71" fill="#00ff00"/>
<rect x="572" y="660" width="3" height="65" fill="#00ff00"/>
<rect x="580" y="660" width="3" height="61" fill="#00ff00"/>
<rect x="588" y="660" width="3" height="60" fill="#00ff00"/>
<rect x="596" y="660" width="3" height="50" fill="#00ff00"/>
<rect x="604" y="660" width="3" height="41" fill="#00ff00"/>
<rect x="612" y="660" width="3" height="35" fill="#00ff00"/>
<rect x="620" y="660" width="3" height="29" fill="#00ff00"/>
<rect x="628" y="660" width="3" height="24" fill="#00ff00"/>
<rect x="636" y="660" width="3" height="20" fill="#00ff00"/>
<rect x="644" y="660" width="3" height="20" fill="#00ff00"/>
<rect x="652" y="660" width="3" height="22" fill="#00ff00"/>
<rect x="660" y="660" width="3" height="25" fill="#00ff00"/>
<rect x="668" y="660" width="3" height="27" fill="#00ff00"/>
<rect x="676" y="660" width="3" height="28" fill="#00ff00"/>
<rect x="684" y="660" width="3" height="30" fill="#00ff00"/>
<rect x="692" y="660" width="3" height="37" fill="#00ff00"/>
<rect x="700" y="660" width="3" height="45" fill="#00ff00"/>
<rect x="708" y="660" width="3" height="48" fill="#00ff00"/>
<rect x="716" y="660" width="3" height="53" fill="#00ff00"/>
<rect x="724" y="660" width="3" height="51" fill="#00ff00"/>
<rect x="732" y="660" width="3" height="51" fill="#00ff00"/>
<rect x="740" y="660" width="3" height="51" fill="#00ff00"/>
<rect x="748" y="660" width="3" height="53" fill="#00ff00"/>
<rect x="756" y="660" width="3" height="56" fill="#00ff00"/>
<rect x="764" y="660" width="3" height="63" fill="#00ff00"/>
<rect x="772" y="660" width="3" height="68" fill="#00ff00"/>
<rect x="780" y="660" width="3" height="74" fill="#00ff00"/>
<rect x="788" y="660" width="3" height="73" fill="#00ff00"/>
<rect x="796" y="660" width="3" height="64" fill="#00ff00"/>
<rect x="804" y="660" width="3" height="55" fill="#00ff00"/>
<rect x="812" y="660" width="3" height="46" fill="#00ff00"/>
<rect x="820" y="660" width="3" height="42" fill="#00ff00"/>
<rect x="828" y="660" width="3" height="38" fill="#00ff00"/>
<rect x="836" y="660" width="3" height="25" fill="#00ff00"/>
<rect x="844" y="660" width="3" height="12" fill="#00ff00"/>
<rect x="852" y="660" width="3" height="1" fill="#00ff00"/>
<rect x="860" y="653" width="3" height="7" fill="#00ff00"/>
<rect x="868" y="649" width="3" height="11" fill="#00ff00"/>
<rect x="876" y="646" width="3" height="14" fill="#00ff00"/>
<rect x="884" y="647" width="3" height="13" fill="#00ff00"/>
<rect x="892" y="649" width="3" height="11" fill="#00ff00"/>
<rect x="900" y="653" width="3" height="7" fill="#00ff00"/>
<rect x="908" y="656" width="3" height="4" fill="#00ff00"/>
<rect x="916" y="652" width="3" height="8" fill="#00ff00"/>
<rect x="924" y="645" width="3" height="15" fill="#00ff00"/>
<rect x="932" y="637" width="3" height="23" fill="#00ff00"/>
<rect x="940" y="635" width="3" height="25" fill="#00ff00"/>
<rect x="948" y="628" width="3" height="32" fill="#00ff00"/>
<rect x="956" y="622" width="3" height="38" fill="#00ff00"/>
<rect x="964" y="619" width="3" height="41" fill="#00ff00"/>
<rect x="972" y="618" width="3" height="42" fill="#00ff00"/>
<rect x="980" y="623" width="3" height="37" fill="#00ff00"/>
<rect x="988" y="623" width="3" height="37" fill="#00ff00"/>
<rect x="996" y="623" width="3" height="37" fill="#00ff00"/>
<rect x="1004" y="627" width="3" height="33" fill="#00ff00"/>
<rect x="1012" y="633" width="3" height="27" fill="#00ff00"/>
<rect x="1020" y="637" width="3" height="23" fill="#00ff00"/>
<rect x="1028" y="638" width="3" height="22" fill="#00ff00"/>
<rect x="1036" y="642" width="3" height="18" fill="#00ff00"/>
<rect x="1044" y="646" width="3" height="14" fill="#00ff00"/>
<rect x="1052" y="648" width="3" height="12" fill="#00ff00"/>
<rect x="1060" y="650" width="3" height="10" fill="#00ff00"/>
<rect x="1068" y="653" width="3" height="7" fill="#00ff00"/>
<rect x="1076" y="654" width="3" height="6" fill="#00ff00"/>
<rect x="1084" y="654" width="3" height="6" fill="#00ff00"/>
<rect x="1092" y="660" width="3" height="1" fill="#00ff00"/>
<rect x="1100" y="660" width="3" height="4" fill="#00ff00"/>
<rect x="1108" y="655" width="3" height="5" fill="#00ff00"/>
<rect x="1116" y="649" width="3" height="11" fill="#00ff00"/>
<rect x="1124" y="643" width="3" height="17" fill="#00ff00"/>
<rect x="1132" y="640" width="3" height="20" fill="#00ff00"/>
<rect x="1140" y="633" width="3" height="27" fill="#00ff00"/>
<rect x="1148" y="629" width="3" height="31" fill="#00ff00"/>
<rect x="1156" y="627" width="3" height="33" fill="#00ff00"/>
<rect x="1164" y="626" width="3" height="34" fill="#00ff00"/>
<rect x="1172" y="621" width="3" height="39" fill="#00ff00"/>
<rect x="1180" y="617" width="3" height="43" fill="#00ff00"/>
<rect x="1188" y="613" width="3" height="47" fill="#00ff00"/>
<rect x="1196" y="610" width="3" height="50" fill="#00ff00"/>
<rect x="1204" y="608" width="3" height="52" fill="#00ff00"/>
<rect x="1212" y="608" width="3" height="52" fill="#00ff00"/>
<rect x="1220" y="608" width="3" height="52" fill="#00ff00"/>
<rect x="1228" y="608" width="3" height="52" fill="#00ff00"/>
<rect x="1236" y="608" width="3" height="52" fill="#00ff00"/>
<rect x="1244" y="607" width="3" height="53" fill="#00ff00"/>
<rect x="1252" y="611" width="3" height="49" fill="#00ff00"/>
<rect x="1260" y="613" width="3" height="47" fill="#00ff00"/>
<rect x="1268" y="617" width="3" height="43" fill="#00ff00"/>
<rect x="1276" y="620" width="3" height="40" fill="#00ff00"/>
<rect x="1284" y="622" width="3" height="38" fill="#00ff00"/>
<rect x="1292" y="623" width="3" height="37" fill="#00ff00"/>
<path d="M1250 608h15v1h-15zM1242 609h31v1h-31zM1236 610h43v1h-43zM1232 611h17v1h-17zM1266 611h17v1h-17zM1228 612h13v1h-13zM1274 612h15v1h-15zM1224 613h11v1h-11zM1280 613h14v1h-14zM1220 614h11v1h-11zM1284 614h11v1h-11zM1218 615h9v1h-9zM1290 615h4v1h-4zM1215 616h8v1h-8zM1212 617h8v1h-8zM1208 618h9v1h-9zM1204 619h11v1h-11zM1202 620h9v1h-9zM1200 621h7v1h-7zM1198 622h7v1h-7zM1002 623h15v1h-15zM1196 623h7v1h-7zM996 624h27v1h-27zM1194 624h7v1h-7zM994 625h33v1h-33zM1192 625h7v1h-7zM991 626h10v1h-10zM1018 626h13v1h-13zM1190 626h7v1h-7zM988 627h8v1h-8zM1024 627h11v1h-11zM1188 627h7v1h-7zM986 628h7v1h-7zM1028 628h11v1h-11zM1186 628h7v1h-7zM983 629h8v1h-8zM1032 629h9v1h-9zM1184 629h7v1h-7zM980 630h8v1h-8zM1036 630h8v1h-8zM1182 630h7v1h-7zM978 631h7v1h-7zM1039 631h8v1h-8zM1180 631h7v1h-7zM976 632h7v1h-7zM1042 632h7v1h-7zM1178 632h7v1h-7zM974 633h7v1h-7zM1044 633h8v1h-8zM1176 633h7v1h-7zM972 634h7v1h-7zM1047 634h8v1h-8zM1174 634h7v1h-7zM970 635h7v1h-7zM1050 635h7v1h-7zM1172 635h7v1h-7zM968 636h7v1h-7zM1052 636h8v1h-8zM1171 636h6v1h-6zM966 637h7v1h-7zM1055 637h8v1h-8zM1169 637h6v1h-6zM964 638h7v1h-7zM1058 638h7v1h-7zM1168 638h5v1h-5zM962 639h7v1h-7zM1060 639h7v1h-7zM1166 639h5v1h-5zM959 640h8v1h-8zM1062 640h7v1h-7zM1164 640h6v1h-6zM956 641h8v1h-8zM1064 641h7v1h-7zM1162 641h6v1h-6zM954 642h7v1h-7zM1066 642h7v1h-7zM1159 642h8v1h-8zM951 643h8v1h-8zM1068 643h8v1h-8zM1156 643h8v1h-8zM948 644h8v1h-8zM1071 644h8v1h-8zM1154 644h7v1h-7zM944 645h9v1h-9zM1074 645h9v1h-9zM1151 645h8v1h-8zM938 646h13v1h-13zM1076 646h11v1h-11zM1148 646h8v1h-8zM932 647h15v1h-15zM1080 647h11v1h-11zM1146 647h7v1h-7zM928 648h15v1h-15zM1084 648h11v1h-11zM1143 648h8v1h-8zM924 649h13v1h-13zM1088 649h9v1h-9zM1140 649h8v1h-8zM920 650h11v1h-11zM1092 650h8v1h-8zM1136 650h9v1h-9zM916 651h11v1h-11zM1095 651h8v1h-8zM1130 651h13v1h-13zM912 652h11v1h-11zM1098 652h9v1h-9zM1122 652h17v1h-17zM908 653h11v1h-11zM1100 653h35v1h-35zM906 654h9v1h-9zM1104 654h25v1h-25zM903 655h8v1h-8zM1108 655h13v1h-13zM900 656h8v1h-8zM58 657h31v1h-31zM899 657h6v1h-6zM50 658h47v1h-47zM897 658h6v1h-6zM44 659h59v1h-59zM896 659h5v1h-5zM40 660h17v1h-17zM90 660h17v1h-17zM894 660h5v1h-5zM36 661h13v1h-13zM98 661h13v1h-13zM892 661h6v1h-6zM32 662h11v1h-11zM104 662h9v1h-9zM891 662h5v1h-5zM28 663h11v1h-11zM108 663h8v1h-8zM890 663h5v1h-5zM26 664h9v1h-9zM111 664h8v1h-8zM888 664h5v1h-5zM24 665h7v1h-7zM114 665h9v1h-9zM887 665h5v1h-5zM22 666h7v1h-7zM116 666h11v1h-11zM886 666h5v1h-5zM20 667h7v1h-7zM120 667h11v1h-11zM884 667h5v1h-5zM18 668h7v1h-7zM124 668h11v1h-11zM883 668h5v1h-5zM15 669h8v1h-8zM128 669h11v1h-11zM354 669h13v1h-13zM882 669h5v1h-5zM12 670h8v1h-8zM132 670h11v1h-11zM346 670h25v1h-25zM880 670h5v1h-5zM10 671h7v1h-7zM136 671h9v1h-9zM340 671h35v1h-35zM879 671h5v1h-5zM7 672h8v1h-8zM140 672h8v1h-8zM338 672h15v1h-15zM368 672h9v1h-9zM878 672h5v1h-5zM5 673h7v1h-7zM143 673h8v1h-8zM335 673h10v1h-10zM372 673h8v1h-8zM877 673h4v1h-4zM5 674h4v1h-4zM146 674h9v1h-9zM332 674h8v1h-8zM375 674h8v1h-8zM876 674h4v1h-4zM5 675h2v1h-2zM148 675h11v1h-11zM330 675h7v1h-7zM378 675h7v1h-7zM875 675h4v1h-4zM152 676h9v1h-9zM327 676h8v1h-8zM380 676h7v1h-7zM874 676h3v1h-3zM156 677h8v1h-8zM324 677h8v1h-8zM382 677h7v1h-7zM873 677h3v1h-3zM159 678h8v1h-8zM322 678h7v1h-7zM384 678h7v1h-7zM872 678h3v1h-3zM162 679h9v1h-9zM319 679h8v1h-8zM386 679h7v1h-7zM871 679h3v1h-3zM164 680h13v1h-13zM316 680h8v1h-8zM388 680h7v1h-7zM870 680h3v1h-3zM168 681h17v1h-17zM314 681h7v1h-7zM390 681h7v1h-7zM869 681h3v1h-3zM172 682h21v1h-21zM311 682h8v1h-8zM392 682h7v1h-7zM868 682h3v1h-3zM178 683h23v1h-23zM308 683h8v1h-8zM394 683h6v1h-6zM682 683h7v1h-7zM867 683h3v1h-3zM186 684h23v1h-23zM306 684h7v1h-7zM396 684h6v1h-6zM674 684h21v1h-21zM866 684h3v1h-3zM194 685h23v1h-23zM303 685h8v1h-8zM398 685h5v1h-5zM668 685h31v1h-31zM865 685h3v1h-3zM202 686h21v1h-21zM300 686h8v1h-8zM400 686h5v1h-5zM666 686h15v1h-15zM690 686h13v1h-13zM864 686h3v1h-3zM210 687h17v1h-17zM298 687h7v1h-7zM401 687h6v1h-6zM663 687h10v1h-10zM696 687h9v1h-9zM863 687h3v1h-3zM218 688h15v1h-15zM295 688h8v1h-8zM403 688h6v1h-6zM660 688h8v1h-8zM700 688h8v1h-8zM862 688h3v1h-3zM224 689h17v1h-17zM290 689h10v1h-10zM404 689h7v1h-7zM658 689h7v1h-7zM703 689h8v1h-8zM861 689h3v1h-3zM228 690h29v1h-29zM282 690h15v1h-15zM406 690h7v1h-7zM655 690h8v1h-8zM706 690h7v1h-7zM860 690h3v1h-3zM234 691h61v1h-61zM408 691h7v1h-7zM652 691h8v1h-8zM708 691h7v1h-7zM859 691h3v1h-3zM242 692h47v1h-47zM410 692h6v1h-6zM651 692h6v1h-6zM710 692h7v1h-7zM858 692h4v1h-4zM258 693h23v1h-23zM412 693h6v1h-6zM649 693h6v1h-6zM712 693h7v1h-7zM857 693h4v1h-4zM414 694h5v1h-5zM648 694h5v1h-5zM714 694h7v1h-7zM856 694h4v1h-4zM416 695h5v1h-5zM646 695h5v1h-5zM716 695h8v1h-8zM855 695h4v1h-4zM417 696h6v1h-6zM644 696h6v1h-6zM719 696h8v1h-8zM854 696h4v1h-4zM419 697h6v1h-6zM643 697h5v1h-5zM722 697h7v1h-7zM853 697h4v1h-4zM420 698h7v1h-7zM641 698h6v1h-6zM724 698h8v1h-8zM853 698h3v1h-3zM422 699h7v1h-7zM640 699h5v1h-5zM727 699h8v1h-8zM852 699h3v1h-3zM424 700h7v1h-7zM638 700h5v1h-5zM730 700h7v1h-7zM851 700h3v1h-3zM426 701h7v1h-7zM636 701h6v1h-6zM732 701h8v1h-8zM850 701h3v1h-3zM428 702h7v1h-7zM635 702h5v1h-5zM735 702h8v1h-8zM849 702h3v1h-3zM430 703h7v1h-7zM633 703h6v1h-6zM738 703h7v1h-7zM848 703h3v1h-3zM432 704h7v1h-7zM632 704h5v1h-5zM740 704h8v1h-8zM847 704h3v1h-3zM434 705h7v1h-7zM630 705h5v1h-5zM743 705h8v1h-8zM846 705h3v1h-3zM436 706h7v1h-7zM628 706h6v1h-6zM746 706h9v1h-9zM844 706h4v1h-4zM438 707h7v1h-7zM627 707h5v1h-5zM748 707h11v1h-11zM843 707h4v1h-4zM440 708h7v1h-7zM625 708h6v1h-6zM752 708h9v1h-9zM842 708h4v1h-4zM442 709h9v1h-9zM624 709h5v1h-5zM756 709h8v1h-8zM840 709h5v1h-5zM444 710h11v1h-11zM622 710h5v1h-5zM759 710h8v1h-8zM839 710h5v1h-5zM448 711h11v1h-11zM620 711h6v1h-6zM762 711h7v1h-7zM838 711h5v1h-5zM452 712h11v1h-11zM522 712h29v1h-29zM618 712h6v1h-6zM764 712h8v1h-8zM836 712h5v1h-5zM456 713h11v1h-11zM514 713h41v1h-41zM616 713h7v1h-7zM767 713h8v1h-8zM834 713h6v1h-6zM460 714h13v1h-13zM506 714h53v1h-53zM614 714h7v1h-7zM770 714h7v1h-7zM832 714h7v1h-7zM464 715h17v1h-17zM498 715h23v1h-23zM552 715h11v1h-11zM612 715h7v1h-7zM772 715h8v1h-8zM830 715h7v1h-7zM468 716h45v1h-45zM556 716h13v1h-13zM608 716h9v1h-9zM775 716h8v1h-8zM828 716h7v1h-7zM474 717h31v1h-31zM560 717h17v1h-17zM604 717h11v1h-11zM778 717h9v1h-9zM824 717h9v1h-9zM482 718h15v1h-15zM564 718h21v1h-21zM600 718h11v1h-11zM780 718h13v1h-13zM818 718h13v1h-13zM570 719h37v1h-37zM784 719h17v1h-17zM810 719h17v1h-17zM578 720h25v1h-25zM788 720h35v1h-35zM586 721h13v1h-13zM794 721h23v1h-23zM802 722h7v1h-7z" fill="#ff0000"/>
</g>
<path d="M4.5 4.5H1632.5V597.5H4.5Z" stroke="#000" fill="none" stroke-width="1"/>
<path d="M4.5 599.5H1632.5V740.5H4.5Z" stroke="#000" fill="none" stroke-width="1"/>
<path d="M1633 33.5H1635M1633 66.5H1635M1633 99.5H1635M1633 132.5H1635M1633 165.5H1635M1633 198.5H1635M1633 231.5H1635M1633 264.5H1635M1633 297.5H1635M1633 330.5H1635M1633 363.5H1635M1633 396.5H1635M1633 429.5H1635M1633 462.5H1635M1633 495.5H1635M1633 528.5H1635M1633 561.5H1635M1633 594.5H1635M1633 660.5H1634M1633 601.5H1634M1633 247.5H1634M1633 441.5H1634M1633 739.5H1634M5.5 741V744M69.5 741V744M133.5 741V744M197.5 741V744M261.5 741V744M325.5 741V744M389.5 741V744M453.5 741V744M517.5 741V744M581.5 741V744M645.5 741V744M709.5 741V744M773.5 741V744M837.5 741V744M901.5 741V744M965.5 741V744M1029.5 741V744M1093.5 741V744M1157.5 741V744M1221.5 741V744M1285.5 741V744" stroke="#000" stroke-width="1" fill="none"/>
<path d="M1301 5h9v1h-1v1h-1v1h-1v1h-1v1h-1v-1h-1v-1h-1v-1h-1v-1h-1z" fill="#778899"/>
<rect x="1634" y="221" width="36" height="11" fill="#000"/>
<rect x="1634" y="241" width="36" height="11" fill="#000"/>
<rect x="1634" y="435" width="36" height="11" fill="#000"/>
<g shape-rendering="auto" fill="#ff0000">
<line x1="1298.5" y1="246" x2="1331" y2="157" stroke="#ff0000" stroke-width="6" stroke-linecap="round"/>
<polygon points="1343.7,123.1 1320.1,152.5 1342.4,160.8"/>
</g>
<g font-family="Liberation Sans, sans-serif" shape-rendering="auto" style="white-space:pre"><text x="2.91" y="753" fill="#000" stroke="#000" stroke-width="0.12" font-size="9.6" textLength="54.47" lengthAdjust="spacing">16 Aug 2022</text><text x="67.81" y="753" fill="#000" stroke="#000" stroke-width="0.12" font-size="9.6" textLength="56.67" lengthAdjust="spacing">22 Aug 01:30</text><text x="131.68" y="753" fill="#000" stroke="#000" stroke-width="0.12" font-size="9.6" textLength="56.80" lengthAdjust="spacing">26 Aug 01:30</text><text x="196.34" y="753" fill="#000" stroke="#000" stroke-width="0.12" font-size="9.6" textLength="49.86" lengthAdjust="spacing">1 Sep 01:30</text><text x="259.45" y="753" fill="#000" stroke="#000" stroke-width="0.12" font-size="9.6" textLength="51.03" lengthAdjust="spacing">7 Sep 01:30</text><text x="323.32" y="753" fill="#000" stroke="#000" stroke-width="0.12" font-size="9.6" textLength="56.15" lengthAdjust="spacing">14 Sep 01:30</text><text x="387.53" y="753" fill="#000" stroke="#000" stroke-width="0.12" font-size="9.6" textLength="55.94" lengthAdjust="spacing">20 Sep 01:30</text><text x="451.53" y="753" fill="#000" stroke="#000" stroke-width="0.12" font-size="9.6" textLength="55.94" lengthAdjust="spacing">26 Sep 01:30</text><text x="515.53" y="753" fill="#000" stroke="#000" stroke-width="0.12" font-size="9.6" textLength="55.89" lengthAdjust="spacing">30 Sep 01:30</text><text x="579.28" y="753" fill="#000" stroke="#000" stroke-width="0.12" font-size="9.6" textLength="55.20" lengthAdjust="spacing">13 Oct 01:30</text><text x="643.56" y="753" fill="#000" stroke="#000" stroke-width="0.12" font-size="9.6" textLength="54.92" lengthAdjust="spacing">19 Oct 01:30</text><text x="707.49" y="753" fill="#000" stroke="#000" stroke-width="0.12" font-size="9.6" textLength="54.99" lengthAdjust="spacing">25 Oct 01:30</text><text x="771.72" y="753" fill="#000" stroke="#000" stroke-width="0.12" font-size="9.6" textLength="54.70" lengthAdjust="spacing">31 Oct 01:30</text><text x="835.79" y="753" fill="#000" stroke="#000" stroke-width="0.12" font-size="9.6" textLength="52.69" lengthAdjust="spacing">4 Nov 01:30</text><text x="899.41" y="753" fill="#000" stroke="#000" stroke-width="0.12" font-size="9.6" textLength="57.73" lengthAdjust="spacing">10 Nov 01:30</text><text x="963.51" y="753" fill="#000" stroke="#000" stroke-width="0.12" font-size="9.6" textLength="58.56" lengthAdjust="spacing">16 Nov 01:30</text><text x="1027.53" y="753" fill="#000" stroke="#000" stroke-width="0.12" font-size="9.6" textLength="57.95" lengthAdjust="spacing">22 Nov 01:30</text><text x="1091.67" y="753" fill="#000" stroke="#000" stroke-width="0.12" font-size="9.6" textLength="57.75" lengthAdjust="spacing">28 Nov 01:30</text><text x="1155.67" y="753" fill="#000" stroke="#000" stroke-width="0.12" font-size="9.6" textLength="51.43" lengthAdjust="spacing">2 Dec 01:30</text><text x="1219.49" y="753" fill="#000" stroke="#000" stroke-width="0.12" font-size="9.6" textLength="50.98" lengthAdjust="spacing">8 Dec 01:30</text><text x="1283.51" y="753" fill="#000" stroke="#000" stroke-width="0.12" font-size="9.6" textLength="55.91" lengthAdjust="spacing">14 Dec 01:30</text><text x="1637.84" y="37" fill="#000" stroke="#000" stroke-width="0.12" font-size="9.6" textLength="28.31" lengthAdjust="spacing">4228.0</text><text x="1637.84" y="70" fill="#000" stroke="#000" stroke-width="0.12" font-size="9.6" textLength="28.31" lengthAdjust="spacing">4184.0</text><text x="1637.84" y="103" fill="#000" stroke="#000" stroke-width="0.12" font-size="9.6" textLength="28.31" lengthAdjust="spacing">4139.0</text><text x="1637.84" y="136" fill="#000" stroke="#000" stroke-width="0.12" font-size="9.6" textLength="28.31" lengthAdjust="spacing">4095.0</text><text x="1637.84" y="169" fill="#000" stroke="#000" stroke-width="0.12" font-size="9.6" textLength="28.31" lengthAdjust="spacing">4051.0</text><text x="1637.84" y="202" fill="#000" stroke="#000" stroke-width="0.12" font-size="9.6" textLength="28.31" lengthAdjust="spacing">4007.0</text><text x="1637.64" y="268" fill="#000" stroke="#000" stroke-width="0.12" font-size="9.6" textLength="28.51" lengthAdjust="spacing">3918.0</text><text x="1637.64" y="301" fill="#000" stroke="#000" stroke-width="0.12" font-size="9.6" textLength="28.51" lengthAdjust="spacing">3874.0</text><text x="1637.64" y="334" fill="#000" stroke="#000" stroke-width="0.12" font-size="9.6" textLength="28.51" lengthAdjust="spacing">3829.0</text><text x="1637.64" y="367" fill="#000" stroke="#000" stroke-width="0.12" font-size="9.6" textLength="28.51" lengthAdjust="spacing">3785.0</text><text x="1637.64" y="400" fill="#000" stroke="#000" stroke-width="0.12" font-size="9.6" textLength="28.51" lengthAdjust="spacing">3741.0</text><text x="1637.64" y="433" fill="#000" stroke="#000" stroke-width="0.12" font-size="9.6" textLength="28.51" lengthAdjust="spacing">3697.0</text><text x="1637.64" y="466" fill="#000" stroke="#000" stroke-width="0.12" font-size="9.6" textLength="28.51" lengthAdjust="spacing">3652.0</text><text x="1637.64" y="499" fill="#000" stroke="#000" stroke-width="0.12" font-size="9.6" textLength="28.51" lengthAdjust="spacing">3608.0</text><text x="1637.64" y="532" fill="#000" stroke="#000" stroke-width="0.12" font-size="9.6" textLength="28.51" lengthAdjust="spacing">3564.0</text><text x="1637.64" y="565" fill="#000" stroke="#000" stroke-width="0.12" font-size="9.6" textLength="28.51" lengthAdjust="spacing">3519.0</text><text x="1637.64" y="598" fill="#000" stroke="#000" stroke-width="0.12" font-size="9.6" textLength="28.51" lengthAdjust="spacing">3475.0</text><text x="1637.50" y="235" fill="#000" stroke="#000" stroke-width="0.12" font-size="9.6" textLength="28.50" lengthAdjust="spacing">3962.0</text><text x="1637.64" y="230" fill="#fff" stroke="#fff" stroke-width="0.12" font-size="9.6" textLength="28.54" lengthAdjust="spacing">3968.5</text><text x="1637.64" y="250" fill="#fff" stroke="#fff" stroke-width="0.12" font-size="9.6" textLength="28.54" lengthAdjust="spacing">3940.8</text><text x="1637.64" y="444" fill="#fff" stroke="#fff" stroke-width="0.12" font-size="9.6" textLength="28.74" lengthAdjust="spacing">3680.4</text><text x="1635.53" y="611" fill="#000" stroke="#000" stroke-width="0.12" font-size="9.6" textLength="23.85" lengthAdjust="spacing">56.41</text><text x="1635.67" y="664" fill="#000" stroke="#000" stroke-width="0.12" font-size="9.6" textLength="19.26" lengthAdjust="spacing">0.00</text><text x="1635.64" y="737" fill="#000" stroke="#000" stroke-width="0.12" font-size="9.6" textLength="26.53" lengthAdjust="spacing">-75.35</text><text x="19.42" y="16" fill="#000" stroke="#000" stroke-width="0.12" font-size="9.6" textLength="66.10" lengthAdjust="spacing">CHINA300-,H4</text><text x="90.72" y="16" fill="#000" stroke="#000" stroke-width="0.12" font-size="9.6" textLength="28.80" lengthAdjust="spacing">3967.4</text><text x="121.67" y="16" fill="#000" stroke="#000" stroke-width="0.12" font-size="9.6" textLength="28.55" lengthAdjust="spacing">3982.7</text><text x="152.68" y="16" fill="#000" stroke="#000" stroke-width="0.12" font-size="9.6" textLength="28.60" lengthAdjust="spacing">3957.3</text><text x="183.53" y="16" fill="#000" stroke="#000" stroke-width="0.12" font-size="9.6" textLength="28.68" lengthAdjust="spacing">3968.5</text><text x="8.30" y="612" fill="#000" stroke="#000" stroke-width="0.12" font-size="9.6" textLength="28.60" lengthAdjust="spacing">MACD</text><text x="37.52" y="612" fill="#000" stroke="#000" stroke-width="0.12" font-size="9.6" textLength="37.78" lengthAdjust="spacing">(12,26,9)</text><text x="77.20" y="612" fill="#000" stroke="#000" stroke-width="0.12" font-size="9.6" textLength="23.60" lengthAdjust="spacing">34.74</text><text x="102.96" y="612" fill="#000" stroke="#000" stroke-width="0.12" font-size="9.6" textLength="24.16" lengthAdjust="spacing">43.58</text></g>
<path d="M8 11h7v1h-1v1h-1v1h-1v1h-1v-1h-1v-1h-1v-1h-1z" fill="#000"/>
</svg></body></html>
